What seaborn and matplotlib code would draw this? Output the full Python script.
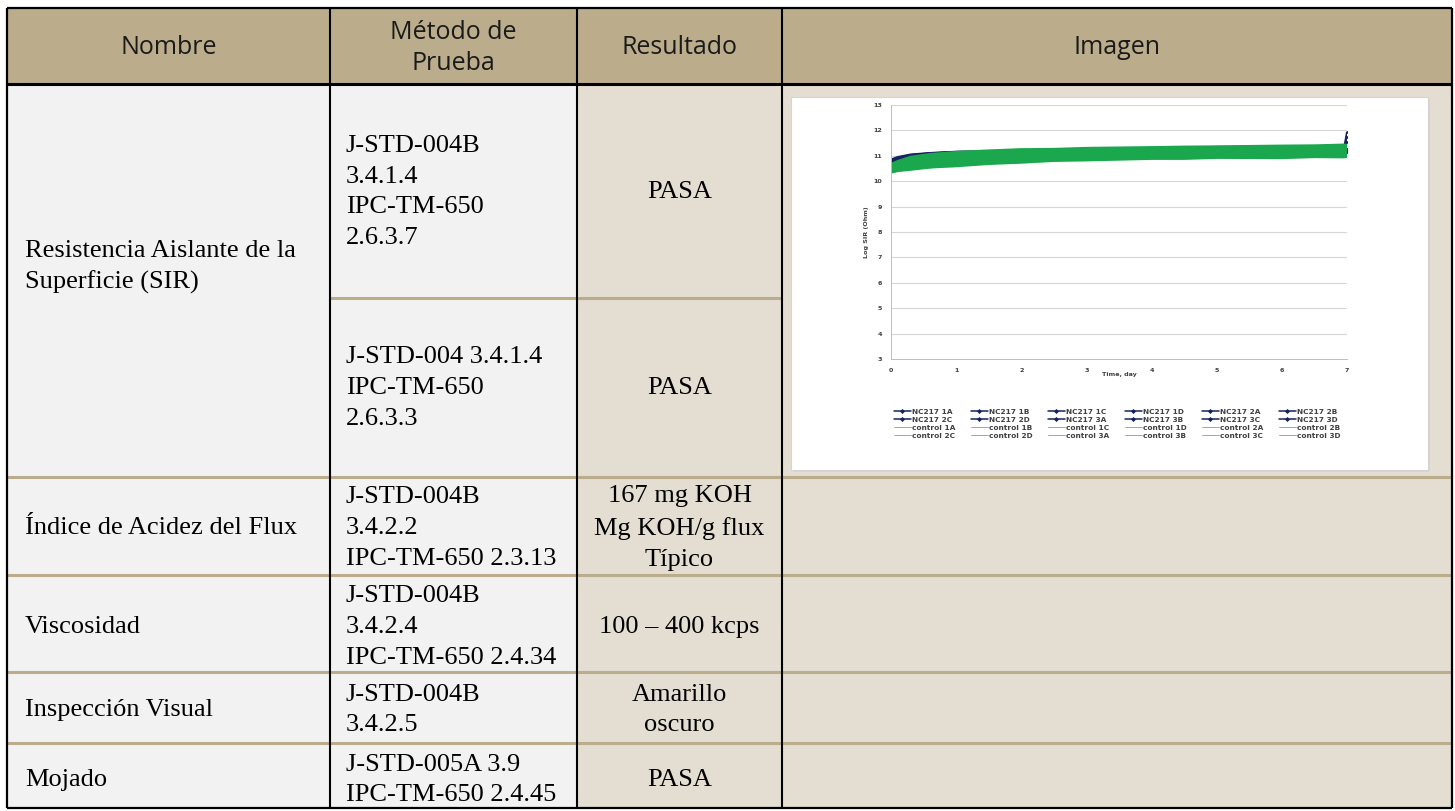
import matplotlib
matplotlib.use("Agg")
import matplotlib.pyplot as plt
import seaborn as sns
from matplotlib.patches import Rectangle
from matplotlib.lines import Line2D

# ---------------- table text ----------------
header_labels = ["Nombre", "Método de\nPrueba", "Resultado", "Imagen"]
names = ["Resistencia Aislante de la\nSuperficie (SIR)",
         "Índice de Acidez del Flux",
         "Viscosidad",
         "Inspección Visual",
         "Mojado"]
methods = ["J-STD-004B\n3.4.1.4\nIPC-TM-650\n2.6.3.7",
           "J-STD-004 3.4.1.4\nIPC-TM-650\n2.6.3.3",
           "J-STD-004B\n3.4.2.2\nIPC-TM-650 2.3.13",
           "J-STD-004B\n3.4.2.4\nIPC-TM-650 2.4.34",
           "J-STD-004B\n3.4.2.5",
           "J-STD-005A 3.9\nIPC-TM-650 2.4.45"]
results = ["PASA", "PASA", "167 mg KOH\nMg KOH/g flux\nTípico",
           "100 – 400 kcps", "Amarillo\noscuro", "PASA"]

# ---------------- SIR chart data (log SIR, Ohm) ----------------
t_days = [0, 0.1, 0.3, 0.6, 1, 1.5, 2, 2.5, 3, 4, 4.5, 5, 6, 6.5, 6.95, 7]

nc_labels = ["NC217 1A", "NC217 1B", "NC217 1C", "NC217 1D", "NC217 2A", "NC217 2B",
             "NC217 2C", "NC217 2D", "NC217 3A", "NC217 3B", "NC217 3C", "NC217 3D"]
nc_1a = [10.80, 10.92, 11.03, 11.10, 11.15, 11.17, 11.18, 11.19, 11.20, 11.21, 11.20, 11.22, 11.22, 11.23, 11.22, 11.92]
nc_1b = [10.70, 10.88, 11.00, 11.09, 11.14, 11.15, 11.17, 11.18, 11.19, 11.19, 11.21, 11.20, 11.21, 11.22, 11.21, 11.74]
nc_1c = [10.62, 10.83, 10.98, 11.07, 11.12, 11.14, 11.16, 11.16, 11.18, 11.19, 11.18, 11.20, 11.20, 11.21, 11.20, 11.22]
nc_1d = [10.74, 10.89, 11.01, 11.08, 11.13, 11.16, 11.15, 11.17, 11.17, 11.20, 11.19, 11.21, 11.21, 11.20, 11.22, 11.18]
nc_2a = [10.55, 10.78, 10.95, 11.05, 11.11, 11.13, 11.15, 11.15, 11.16, 11.17, 11.18, 11.18, 11.19, 11.20, 11.19, 11.20]
nc_2b = [10.85, 10.95, 11.05, 11.11, 11.16, 11.18, 11.19, 11.20, 11.21, 11.22, 11.22, 11.23, 11.23, 11.24, 11.23, 11.25]
nc_2c = [10.66, 10.85, 10.99, 11.06, 11.12, 11.14, 11.16, 11.17, 11.17, 11.18, 11.19, 11.19, 11.20, 11.21, 11.20, 11.19]
nc_2d = [10.57, 10.80, 10.96, 11.06, 11.11, 11.13, 11.14, 11.16, 11.16, 11.17, 11.17, 11.18, 11.19, 11.19, 11.18, 11.17]
nc_3a = [10.77, 10.90, 11.02, 11.09, 11.14, 11.16, 11.17, 11.18, 11.19, 11.20, 11.20, 11.21, 11.21, 11.22, 11.21, 11.23]
nc_3b = [10.64, 10.84, 10.99, 11.07, 11.13, 11.15, 11.16, 11.16, 11.18, 11.18, 11.19, 11.20, 11.20, 11.20, 11.21, 11.20]
nc_3c = [10.68, 10.86, 11.00, 11.08, 11.13, 11.15, 11.17, 11.18, 11.18, 11.19, 11.20, 11.20, 11.21, 11.21, 11.21, 11.55]
nc_3d = [10.58, 10.81, 10.97, 11.05, 11.11, 11.14, 11.15, 11.16, 11.17, 11.18, 11.18, 11.19, 11.19, 11.20, 11.20, 11.16]

ctl_labels = ["control 1A", "control 1B", "control 1C", "control 1D", "control 2A", "control 2B",
              "control 2C", "control 2D", "control 3A", "control 3B", "control 3C", "control 3D"]
ctl_1a = [10.66, 10.78, 10.95, 11.06, 11.14, 11.20, 11.25, 11.26, 11.30, 11.33, 11.35, 11.36, 11.39, 11.40, 11.43, 11.42]
ctl_1b = [10.60, 10.74, 10.88, 11.00, 11.08, 11.16, 11.20, 11.24, 11.26, 11.30, 11.31, 11.34, 11.35, 11.37, 11.38, 11.38]
ctl_1c = [10.55, 10.66, 10.81, 10.92, 11.02, 11.08, 11.15, 11.17, 11.21, 11.24, 11.26, 11.28, 11.31, 11.31, 11.34, 11.33]
ctl_1d = [10.50, 10.62, 10.74, 10.87, 10.95, 11.03, 11.09, 11.13, 11.15, 11.21, 11.21, 11.25, 11.26, 11.29, 11.28, 11.30]
ctl_2a = [10.46, 10.56, 10.70, 10.80, 10.90, 10.97, 11.05, 11.07, 11.12, 11.16, 11.19, 11.19, 11.23, 11.23, 11.26, 11.25]
ctl_2b = [10.43, 10.54, 10.64, 10.77, 10.84, 10.93, 10.99, 11.05, 11.07, 11.13, 11.13, 11.17, 11.18, 11.21, 11.20, 11.22]
ctl_2c = [10.40, 10.49, 10.62, 10.71, 10.81, 10.87, 10.96, 10.99, 11.04, 11.08, 11.11, 11.11, 11.16, 11.15, 11.18, 11.17]
ctl_2d = [10.38, 10.48, 10.57, 10.69, 10.75, 10.85, 10.90, 10.97, 10.98, 11.05, 11.05, 11.09, 11.10, 11.13, 11.12, 11.14]
ctl_3a = [10.36, 10.44, 10.56, 10.63, 10.73, 10.79, 10.88, 10.91, 10.96, 10.99, 11.03, 11.04, 11.08, 11.07, 11.10, 11.09]
ctl_3b = [10.40, 10.47, 10.51, 10.61, 10.67, 10.77, 10.82, 10.89, 10.91, 10.98, 10.98, 11.02, 11.02, 11.05, 11.04, 11.06]
ctl_3c = [10.37, 10.42, 10.51, 10.56, 10.65, 10.71, 10.80, 10.83, 10.89, 10.92, 10.96, 10.96, 10.99, 10.98, 11.01, 11.00]
ctl_3d = [10.35, 10.41, 10.46, 10.55, 10.60, 10.69, 10.74, 10.81, 10.83, 10.89, 10.89, 10.93, 10.92, 10.96, 10.95, 10.97]

nc_series = [nc_1a, nc_1b, nc_1c, nc_1d, nc_2a, nc_2b, nc_2c, nc_2d, nc_3a, nc_3b, nc_3c, nc_3d]
ctl_series = [ctl_1a, ctl_1b, ctl_1c, ctl_1d, ctl_2a, ctl_2b, ctl_2c, ctl_2d, ctl_3a, ctl_3b, ctl_3c, ctl_3d]

# ---------------- style ----------------
sns.set_style("white")
plt.rcParams["font.family"] = ["Liberation Serif", "DejaVu Serif"]

W, H = 1455, 811
fig = plt.figure(figsize=(W / 100, H / 100), dpi=100)
tab = fig.add_axes([0, 0, 1, 1])
tab.set_xlim(0, W)
tab.set_ylim(H, 0)
tab.axis("off")

tan = "#BBAD8B"
gray_cell = "#F2F2F2"
beige = "#E4DED2"

# column edges and row edges (pixels)
cx = [7, 330, 577, 782, 1452]
top, head_bot, bottom = 8, 84, 808
row_y = [84, 298, 477, 575, 672, 743, 808]

tab.add_patch(Rectangle((cx[0], top), cx[4] - cx[0], head_bot - top, color=tan, lw=0))
tab.add_patch(Rectangle((cx[0], head_bot), cx[2] - cx[0], bottom - head_bot, color=gray_cell, lw=0))
tab.add_patch(Rectangle((cx[2], head_bot), cx[4] - cx[2], bottom - head_bot, color=beige, lw=0))
# white box holding the chart (with a soft shadow)
tab.add_patch(Rectangle((793, 99), 637, 373, facecolor="#d9d5cc", lw=0))
tab.add_patch(Rectangle((791, 97), 637, 373, facecolor="white", edgecolor="#d4d4d4", lw=0.8))

# row separators
tab.hlines(row_y[1], cx[1], cx[3], color=tan, lw=2.2)
for y in row_y[2:6]:
    tab.hlines(y, cx[0], cx[4], color=tan, lw=2.2)
# verticals + frame
tab.vlines(cx[1:4], top, bottom, color="black", lw=1.5)
tab.vlines([cx[0], cx[4]], top, bottom, color="black", lw=1.6)
tab.hlines([top, bottom], cx[0], cx[4], color="black", lw=1.6)
tab.hlines(head_bot, cx[0], cx[4], color="black", lw=2.2)

# header text
for i, lab in enumerate(header_labels):
    tab.text((cx[i] + cx[i + 1]) / 2, (top + head_bot) / 2 + 2, lab, ha="center", va="center",
             fontsize=18, family="Open Sans", color="#1a1a1a", linespacing=1.3)

body = dict(fontsize=19, color="black", linespacing=1.52)
name_y = [267, 528, 627, 710, 780]
for lab, y in zip(names, name_y):
    tab.text(25, y, lab, ha="left", va="center", **body)
cell_y = [192, 388, 528, 627, 710, 780]
for lab, y in zip(methods, cell_y):
    tab.text(346, y, lab, ha="left", va="center", **body)
for lab, y in zip(results, cell_y):
    tab.text((cx[2] + cx[3]) / 2, y, lab, ha="center", va="center", multialignment="center", **body)

# ---------------- SIR chart ----------------
x0, x1, y_top, y_bot = 891, 1347, 105, 359
ax = fig.add_axes([x0 / W, 1 - y_bot / H, (x1 - x0) / W, (y_bot - y_top) / H])
ax.set_facecolor("white")

navy = "#15235E"
green = "#1BA74D"
for vals in nc_series:
    sns.lineplot(x=t_days, y=vals, ax=ax, color=navy, lw=1.5, marker="D", markersize=1.6,
                 markeredgewidth=0, errorbar=None, legend=False)
for vals in ctl_series:
    sns.lineplot(x=t_days, y=vals, ax=ax, color=green, lw=1.9, errorbar=None, legend=False)

ax.set_xlim(0, 7)
ax.set_ylim(3, 13)
ax.set_xticks(range(0, 8))
ax.set_yticks(range(3, 14))
ax.yaxis.grid(True, color="#d6d6d6", lw=0.8)
ax.set_axisbelow(True)
for s in ["top", "right"]:
    ax.spines[s].set_visible(False)
for s in ["left", "bottom"]:
    ax.spines[s].set_color("#bdbdbd")
    ax.spines[s].set_linewidth(0.7)
ax.tick_params(axis="both", length=2.5, width=0.6, color="#bdbdbd", labelsize=4.6,
               labelcolor="#404040", pad=4)
for lab in ax.get_xticklabels() + ax.get_yticklabels():
    lab.set_family("DejaVu Sans")
    lab.set_fontweight("bold")
ax.set_xlabel("Time, day", fontsize=4.6, family="DejaVu Sans", fontweight="bold",
              color="#404040", labelpad=-1)
ax.set_ylabel("Log SIR (Ohm)", fontsize=4.6, family="DejaVu Sans", fontweight="bold",
              color="#404040", labelpad=3)

# legend: 4 rows x 6 columns, filled row by row
nc_h = [Line2D([], [], color=navy, lw=1.1, marker="D", markersize=2.6, markeredgewidth=0, label=l)
        for l in nc_labels]
ctl_h = [Line2D([], [], color="#52B79B", lw=0.6, label=l) for l in ctl_labels]
grid_rows = [nc_h[:6], nc_h[6:], ctl_h[:6], ctl_h[6:]]
handles = [grid_rows[r][c] for c in range(6) for r in range(4)]
leg = fig.legend(handles=handles, loc="upper center", bbox_to_anchor=(1117 / W, 1 - 402 / H),
                 ncol=6, frameon=False, handlelength=2.3, handletextpad=0.15, columnspacing=2.1,
                 labelspacing=0.25, prop={"family": "DejaVu Sans", "size": 5.3, "weight": "bold"})
for txt in leg.get_texts():
    txt.set_color("#404040")

fig.savefig("out.png", dpi=100)
